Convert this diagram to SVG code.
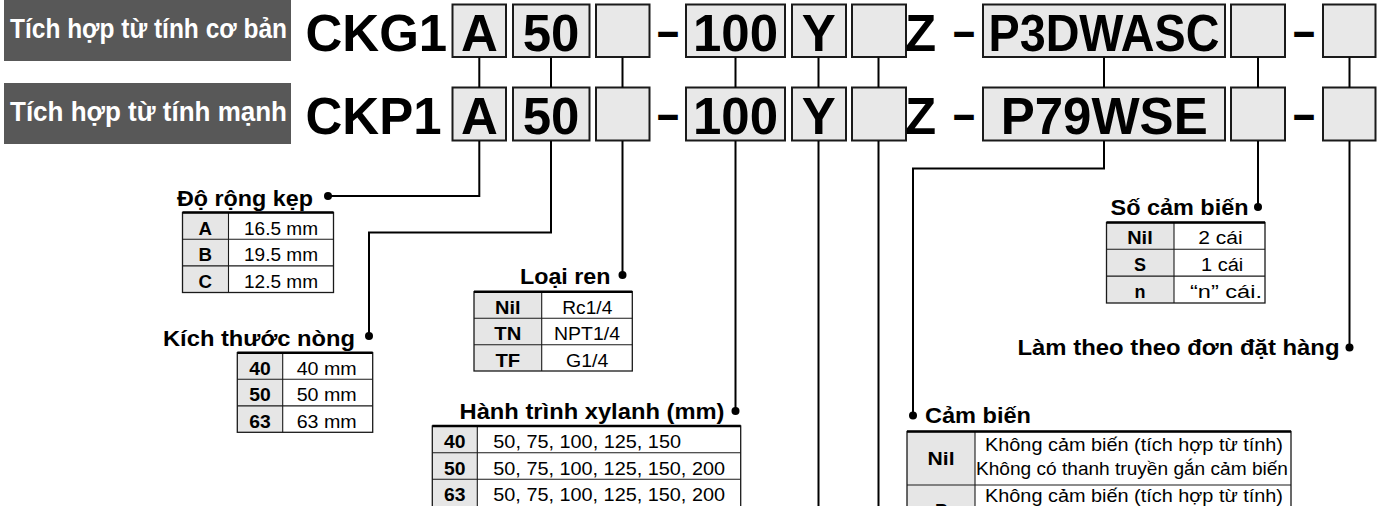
<svg xmlns="http://www.w3.org/2000/svg" width="1387" height="506" viewBox="0 0 1387 506">
<style>
.hdr{fill:#585858}
.hdrt{font-family:"Liberation Sans",Arial,sans-serif;font-weight:bold;font-size:28px;fill:#fff}
.code{font-family:"Liberation Sans",Arial,sans-serif;font-weight:bold;font-size:51px;fill:#000}
.box{fill:#e8e8e8;stroke:#1a1a1a;stroke-width:2}
.conn{fill:none;stroke:#000;stroke-width:2}
.dot{fill:#000}
.lbl{font-family:"Liberation Sans",Arial,sans-serif;font-weight:bold;font-size:22px;fill:#000}
.tk{font-family:"Liberation Sans",Arial,sans-serif;font-weight:bold;font-size:18px;fill:#000}
.tv{font-family:"Liberation Sans",Arial,sans-serif;font-size:18px;fill:#000}
.tk2{font-family:"Liberation Sans",Arial,sans-serif;font-weight:bold;font-size:19px;fill:#000}
.tv2{font-family:"Liberation Sans",Arial,sans-serif;font-size:19px;fill:#000}
.kf{fill:#e6e6e6;stroke:none}
.tb{fill:none;stroke:#1a1a1a;stroke-width:1.3}
.tl{stroke:#1a1a1a;stroke-width:1.1}
.tt{stroke:#000;stroke-width:2.4}
</style>

<g id="header1">
<rect class="hdr" x="4" y="0" width="287" height="61"/>
<text class="hdrt" x="10" y="38" textLength="277" lengthAdjust="spacingAndGlyphs">Tích hợp từ tính cơ bản</text>
</g>
<g id="header2">
<rect class="hdr" x="4" y="83" width="287" height="61"/>
<text class="hdrt" x="10" y="121" textLength="277" lengthAdjust="spacingAndGlyphs">Tích hợp từ tính mạnh</text>
</g>

<g id="code-row1">
<text class="code" x="305.5" y="50.5">CKG1</text>
<rect class="box" x="452.5" y="4.5" width="53.5" height="52.5"/>
<text class="code" x="479.3" y="50.5" text-anchor="middle">A</text>
<rect class="box" x="513" y="4.5" width="76.5" height="52.5"/>
<text class="code" x="551" y="50.5" text-anchor="middle">50</text>
<rect class="box" x="596" y="4.5" width="53.5" height="52.5"/>
<text class="code" x="657" y="47.9" textLength="22" lengthAdjust="spacingAndGlyphs">–</text>
<rect class="box" x="686" y="4.5" width="99" height="52.5"/>
<text class="code" x="735.5" y="50.5" text-anchor="middle">100</text>
<rect class="box" x="792" y="4.5" width="54" height="52.5"/>
<text class="code" x="818.8" y="50.5" text-anchor="middle">Y</text>
<rect class="box" x="852" y="4.5" width="54" height="52.5"/>
<text class="code" x="905" y="50.5">Z</text>
<text class="code" x="953" y="47.9" textLength="22" lengthAdjust="spacingAndGlyphs">–</text>
<rect class="box" x="983" y="4.5" width="242" height="52.5"/>
<text class="code" x="988.5" y="50.5" textLength="231" lengthAdjust="spacingAndGlyphs">P3DWASC</text>
<rect class="box" x="1231" y="4.5" width="54" height="52.5"/>
<text class="code" x="1293" y="47.9" textLength="22" lengthAdjust="spacingAndGlyphs">–</text>
<rect class="box" x="1323" y="4.5" width="52.5" height="52.5"/>
</g>

<g id="code-row2">
<text class="code" x="305.5" y="134">CKP1</text>
<rect class="box" x="452.5" y="87.5" width="53.5" height="53"/>
<text class="code" x="479.3" y="134" text-anchor="middle">A</text>
<rect class="box" x="513" y="87.5" width="76.5" height="53"/>
<text class="code" x="551" y="134" text-anchor="middle">50</text>
<rect class="box" x="596" y="87.5" width="53.5" height="53"/>
<text class="code" x="657" y="131.4" textLength="22" lengthAdjust="spacingAndGlyphs">–</text>
<rect class="box" x="686" y="87.5" width="99" height="53"/>
<text class="code" x="735.5" y="134" text-anchor="middle">100</text>
<rect class="box" x="792" y="87.5" width="54" height="53"/>
<text class="code" x="818.8" y="134" text-anchor="middle">Y</text>
<rect class="box" x="852" y="87.5" width="54" height="53"/>
<text class="code" x="905" y="134">Z</text>
<text class="code" x="953" y="131.4" textLength="22" lengthAdjust="spacingAndGlyphs">–</text>
<rect class="box" x="983" y="87.5" width="242" height="53"/>
<text class="code" x="1104.2" y="134" text-anchor="middle">P79WSE</text>
<rect class="box" x="1231" y="87.5" width="54" height="53"/>
<text class="code" x="1293" y="131.4" textLength="22" lengthAdjust="spacingAndGlyphs">–</text>
<rect class="box" x="1323" y="87.5" width="52.5" height="53"/>
</g>

<g id="connectors">
<path class="conn" d="M479.3 57.5V87.5M551 57.5V87.5M622.5 57.5V87.5M735.5 57.5V87.5M818.5 57.5V87.5M878.5 57.5V87.5M1104 57.5V87.5M1258 57.5V87.5M1349.5 57.5V87.5"/>
<path class="conn" d="M479.3 141V196H328"/>
<path class="conn" d="M551 141V232.5H369V336"/>
<path class="conn" d="M622.5 141V275"/>
<path class="conn" d="M735.5 141V411"/>
<path class="conn" d="M818.5 141V507"/>
<path class="conn" d="M878.5 141V507"/>
<path class="conn" d="M1104 141V168.5H913V415.5"/>
<path class="conn" d="M1258 141V207"/>
<path class="conn" d="M1349.5 141V347.5"/>
<circle class="dot" cx="328" cy="196" r="4"/>
<circle class="dot" cx="369" cy="336" r="4"/>
<circle class="dot" cx="622.5" cy="275" r="4"/>
<circle class="dot" cx="735.5" cy="411" r="4"/>
<circle class="dot" cx="913" cy="415.5" r="4"/>
<circle class="dot" cx="1258" cy="207" r="4"/>
<circle class="dot" cx="1349.5" cy="347.5" r="4"/>
</g>

<g id="do-rong-kep">
<text class="lbl" x="177" y="205.5" textLength="136" lengthAdjust="spacingAndGlyphs">Độ rộng kẹp</text>
<rect class="kf" x="182.5" y="212.5" width="46" height="80"/>
<rect class="tb" x="182.5" y="212.5" width="151" height="80"/>
<path class="tl" d="M228.5 212.5V292.5M182.5 239.2H333.5M182.5 265.9H333.5"/>
<path class="tt" d="M182.5 212.5H333.5"/>
<text class="tk" x="198.5" y="234.5" textLength="13.5" lengthAdjust="spacingAndGlyphs">A</text>
<text class="tk" x="198.5" y="261.2" textLength="13.5" lengthAdjust="spacingAndGlyphs">B</text>
<text class="tk" x="198.5" y="287.9" textLength="13.5" lengthAdjust="spacingAndGlyphs">C</text>
<text class="tv" x="244" y="234.5" textLength="74" lengthAdjust="spacingAndGlyphs">16.5 mm</text>
<text class="tv" x="244" y="261.2" textLength="74" lengthAdjust="spacingAndGlyphs">19.5 mm</text>
<text class="tv" x="244" y="287.9" textLength="74" lengthAdjust="spacingAndGlyphs">12.5 mm</text>
</g>

<g id="kich-thuoc-nong">
<text class="lbl" x="163" y="345.5" textLength="192" lengthAdjust="spacingAndGlyphs">Kích thước nòng</text>
<rect class="kf" x="237.3" y="352.7" width="45.4" height="79.6"/>
<rect class="tb" x="237.3" y="352.7" width="135.4" height="79.6"/>
<path class="tl" d="M282.7 352.7V432.3M237.3 379.3H372.7M237.3 405.9H372.7"/>
<path class="tt" d="M237.3 352.7H372.7"/>
<text class="tk" x="249.2" y="374.7" textLength="21.5" lengthAdjust="spacingAndGlyphs">40</text>
<text class="tk" x="249.2" y="401.3" textLength="21.5" lengthAdjust="spacingAndGlyphs">50</text>
<text class="tk" x="249.2" y="427.9" textLength="21.5" lengthAdjust="spacingAndGlyphs">63</text>
<text class="tv" x="296.7" y="374.7" textLength="60" lengthAdjust="spacingAndGlyphs">40 mm</text>
<text class="tv" x="296.7" y="401.3" textLength="60" lengthAdjust="spacingAndGlyphs">50 mm</text>
<text class="tv" x="296.7" y="427.9" textLength="60" lengthAdjust="spacingAndGlyphs">63 mm</text>
</g>

<g id="loai-ren">
<text class="lbl" x="520" y="284.3" textLength="90.5" lengthAdjust="spacingAndGlyphs">Loại ren</text>
<rect class="kf" x="474" y="291.7" width="67.7" height="79.3"/>
<rect class="tb" x="474" y="291.7" width="158.3" height="79.3"/>
<path class="tl" d="M541.7 291.7V371M474 318.3H632.3M474 344.8H632.3"/>
<path class="tt" d="M474 291.7H632.3"/>
<text class="tk" x="495" y="313.7" textLength="25.5" lengthAdjust="spacingAndGlyphs">Nil</text>
<text class="tk" x="494.3" y="340.3" textLength="27" lengthAdjust="spacingAndGlyphs">TN</text>
<text class="tk" x="495.5" y="366.8" textLength="24.7" lengthAdjust="spacingAndGlyphs">TF</text>
<text class="tv" x="562.3" y="313.7" textLength="50" lengthAdjust="spacingAndGlyphs">Rc1/4</text>
<text class="tv" x="554" y="340.3" textLength="66" lengthAdjust="spacingAndGlyphs">NPT1/4</text>
<text class="tv" x="566" y="366.8" textLength="42.3" lengthAdjust="spacingAndGlyphs">G1/4</text>
</g>

<g id="hanh-trinh">
<text class="lbl" x="459.5" y="418.5" textLength="265" lengthAdjust="spacingAndGlyphs">Hành trình xylanh (mm)</text>
<rect class="kf" x="432.3" y="426" width="45" height="82"/>
<rect class="tb" x="432.3" y="426" width="308.4" height="82"/>
<path class="tl" d="M477.3 426V508M432.3 452.7H740.7M432.3 479.3H740.7"/>
<path class="tt" d="M432.3 426H740.7"/>
<text class="tk" x="444" y="447.8" textLength="21.5" lengthAdjust="spacingAndGlyphs">40</text>
<text class="tk" x="444" y="474.5" textLength="21.5" lengthAdjust="spacingAndGlyphs">50</text>
<text class="tk" x="444" y="501" textLength="21.5" lengthAdjust="spacingAndGlyphs">63</text>
<text class="tv" x="493.3" y="447.8" textLength="187.7" lengthAdjust="spacingAndGlyphs">50, 75, 100, 125, 150</text>
<text class="tv" x="493.3" y="474.5" textLength="231.7" lengthAdjust="spacingAndGlyphs">50, 75, 100, 125, 150, 200</text>
<text class="tv" x="493.3" y="501" textLength="231.7" lengthAdjust="spacingAndGlyphs">50, 75, 100, 125, 150, 200</text>
</g>

<g id="so-cam-bien">
<text class="lbl" x="1110.5" y="214.5" textLength="138" lengthAdjust="spacingAndGlyphs">Số cảm biến</text>
<rect class="kf" x="1106.5" y="222.5" width="67.5" height="80.5"/>
<rect class="tb" x="1106.5" y="222.5" width="158.5" height="80.5"/>
<path class="tl" d="M1174 222.5V303M1106.5 249.3H1265M1106.5 276.1H1265"/>
<path class="tt" d="M1106.5 222.5H1265"/>
<text class="tk" x="1127.2" y="244.3" textLength="25.5" lengthAdjust="spacingAndGlyphs">Nil</text>
<text class="tk" x="1134" y="271.1" textLength="12" lengthAdjust="spacingAndGlyphs">S</text>
<text class="tk" x="1134.5" y="297.9" textLength="11" lengthAdjust="spacingAndGlyphs">n</text>
<text class="tv" x="1198.3" y="244.3" textLength="44.4" lengthAdjust="spacingAndGlyphs">2 cái</text>
<text class="tv" x="1201" y="271.1" textLength="42.3" lengthAdjust="spacingAndGlyphs">1 cái</text>
<text class="tv" x="1190" y="297.9" textLength="72" lengthAdjust="spacingAndGlyphs">“n” cái.</text>
</g>

<g id="lam-theo-don">
<text class="lbl" x="1017.5" y="355" textLength="322" lengthAdjust="spacingAndGlyphs">Làm theo theo đơn đặt hàng</text>
</g>

<g id="cam-bien">
<text class="lbl" x="925" y="423" textLength="106" lengthAdjust="spacingAndGlyphs">Cảm biến</text>
<rect class="kf" x="907" y="431.5" width="68" height="80"/>
<rect class="tb" x="907" y="431.5" width="384" height="80"/>
<path class="tl" d="M975 431.5V511.5M907 485H1291"/>
<path class="tt" d="M907 431.5H1291"/>
<text class="tk2" x="927.5" y="465" textLength="27" lengthAdjust="spacingAndGlyphs">Nil</text>
<text class="tv2" x="985" y="451" textLength="298" lengthAdjust="spacingAndGlyphs">Không cảm biến (tích hợp từ tính)</text>
<text class="tv2" x="976" y="475" textLength="312" lengthAdjust="spacingAndGlyphs">Không có thanh truyền gắn cảm biến</text>
<text class="tk2" x="935" y="516.5" textLength="12.5" lengthAdjust="spacingAndGlyphs">P</text>
<text class="tv2" x="985" y="502" textLength="298" lengthAdjust="spacingAndGlyphs">Không cảm biến (tích hợp từ tính)</text>
</g>
</svg>
